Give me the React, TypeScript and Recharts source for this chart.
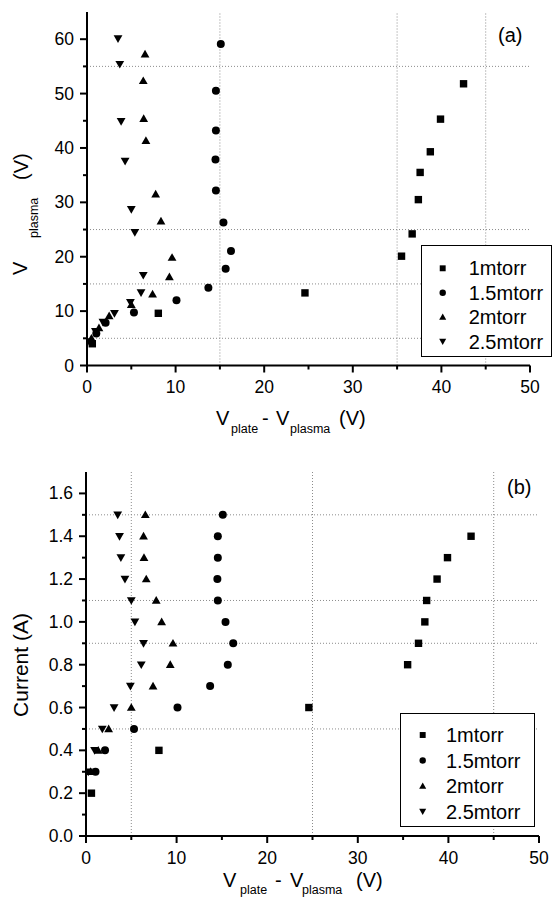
import { ScatterChart, Scatter, XAxis, YAxis, ReferenceLine, Legend } from 'recharts'

const FONT = '"Liberation Sans", Arial, Helvetica, sans-serif'

const pressures = ['1mtorr', '1.5mtorr', '2mtorr', '2.5mtorr']

// V_plate - V_plasma (V) for each pressure
const dv1 = [0.6, 8.05, 24.6, 35.5, 36.7, 37.4, 37.6, 38.75, 39.9, 42.5]
const dv15 = [1.05, 2.1, 5.3, 10.1, 13.7, 15.65, 16.25, 15.4, 14.55, 14.5, 14.55, 14.55, 15.1]
const dv2 = [0.5, 1.35, 2.5, 5.0, 7.4, 9.3, 9.6, 8.35, 7.75, 6.65, 6.4, 6.35, 6.55]
const dv25 = [0.25, 0.95, 1.8, 3.1, 4.9, 6.1, 6.35, 5.4, 5.0, 4.3, 3.85, 3.7, 3.5]

// plasma potential (V)
const vp1 = [4.0, 9.6, 13.35, 20.1, 24.2, 30.5, 35.5, 39.3, 45.3, 51.8]
const vp15 = [5.9, 7.85, 9.75, 12.0, 14.3, 17.8, 21.05, 26.3, 32.2, 37.9, 43.2, 50.5, 59.1]
const vp2 = [5.0, 6.9, 9.1, 11.2, 13.1, 16.3, 19.85, 26.55, 31.5, 41.35, 45.4, 52.35, 57.25]
const vp25 = [4.4, 6.3, 8.0, 9.6, 11.6, 13.4, 16.6, 24.5, 28.7, 37.6, 44.9, 55.4, 60.1]

// discharge current (A)
const cur1 = [0.2, 0.4, 0.6, 0.8, 0.9, 1.0, 1.1, 1.2, 1.3, 1.4]
const curN = [0.3, 0.4, 0.5, 0.6, 0.7, 0.8, 0.9, 1.0, 1.1, 1.2, 1.3, 1.4, 1.5]

const xMajor = [0, 10, 20, 30, 40, 50]
const xMinor = [5, 15, 25, 35, 45]
const vpMajor = [0, 10, 20, 30, 40, 50, 60]
const vpMinor = [5, 15, 25, 35, 45, 55]
const curMajor = [0, 0.2, 0.4, 0.6, 0.8, 1.0, 1.2, 1.4, 1.6]
const curMinor = [0.1, 0.3, 0.5, 0.7, 0.9, 1.1, 1.3, 1.5]

// dotted guide lines
const gridXa = [15, 35, 45]
const gridYa = [5, 15, 25, 55]
const gridXb = [5, 25, 45]
const gridYb = [0.5, 0.9, 1.1, 1.5]

type Kind = 'square' | 'circle' | 'up' | 'down'
const kinds: Kind[] = ['square', 'circle', 'up', 'down']

const pts = (xs: number[], ys: number[]) => xs.map((x, i) => ({ x, y: ys[i] }))

const seriesA = [pts(dv1, vp1), pts(dv15, vp15), pts(dv2, vp2), pts(dv25, vp25)]
const seriesB = [pts(dv1, cur1), pts(dv15, curN), pts(dv2, curN), pts(dv25, curN)]

function Mark({ kind, cx, cy, s = 1 }: { kind: Kind; cx: number; cy: number; s?: number }) {
  if (kind === 'square') {
    const h = 3.7 * s
    return <rect x={cx - h} y={cy - h} width={2 * h} height={2 * h} fill="#000" />
  }
  if (kind === 'circle') return <circle cx={cx} cy={cy} r={4 * s} fill="#000" />
  const h = 4.4 * s
  if (kind === 'up') {
    return <polygon points={`${cx},${cy - h} ${cx + h},${cy + h * 0.75} ${cx - h},${cy + h * 0.75}`} fill="#000" />
  }
  return <polygon points={`${cx},${cy + h} ${cx + h},${cy - h * 0.75} ${cx - h},${cy - h * 0.75}`} fill="#000" />
}

const sortNum = (a: number[]) => [...a].sort((p, q) => p - q)

function makeXTick(major: number[]) {
  return (p: any) => {
    const v = p.payload.value as number
    const isMajor = major.includes(v)
    return (
      <g>
        <line x1={p.x} x2={p.x} y1={p.y} y2={p.y + (isMajor ? 7 : 4)} stroke="#000" strokeWidth={2} />
        {isMajor && (
          <text x={p.x} y={p.y + 27.5} textAnchor="middle" fontSize={17.5} fontFamily={FONT} fill="#000">
            {v}
          </text>
        )}
      </g>
    )
  }
}

function makeYTick(major: number[], fmt: (v: number) => string) {
  return (p: any) => {
    const v = p.payload.value as number
    const isMajor = major.includes(v)
    return (
      <g>
        <line x1={p.x} x2={p.x - (isMajor ? 7 : 4)} y1={p.y} y2={p.y} stroke="#000" strokeWidth={2} />
        {isMajor && (
          <text x={p.x - 13} y={p.y + 6} textAnchor="end" fontSize={17.5} fontFamily={FONT} fill="#000">
            {fmt(v)}
          </text>
        )}
      </g>
    )
  }
}

function KeyBox({ w, h, rowTop, rowGap, markX, textX }: { w: number; h: number; rowTop: number; rowGap: number; markX: number; textX: number }) {
  return (
    <svg width={w} height={h} style={{ display: 'block' }}>
      <rect x={0.5} y={0.5} width={w - 1} height={h - 1} fill="#fff" stroke="#000" strokeWidth={1} />
      {pressures.map((name, i) => {
        const cy = rowTop + i * rowGap
        return (
          <g key={name}>
            <Mark kind={kinds[i]} cx={markX} cy={cy} s={0.8} />
            <text x={textX} y={cy + 7} fontSize={20} fontFamily={FONT} fill="#000">
              {name}
            </text>
          </g>
        )
      })}
    </svg>
  )
}

// axis titles drawn in chart coordinates
function TitlesA() {
  return (
    <g fontFamily={FONT} fill="#000">
      <text x={216} y={425} fontSize={20}>V</text>
      <text x={231} y={432.5} fontSize={12.5}>plate</text>
      <text x={262} y={425} fontSize={20}>-</text>
      <text x={276} y={425} fontSize={20}>V</text>
      <text x={290} y={432.5} fontSize={12.5}>plasma</text>
      <text x={339} y={425} fontSize={20}>(V)</text>
      <text transform="translate(27,275) rotate(-90)" fontSize={20}>V</text>
      <text transform="translate(38,238) rotate(-90)" fontSize={12.5}>plasma</text>
      <text transform="translate(28,180) rotate(-90)" fontSize={20}>(V)</text>
      <text x={498} y={41.5} fontSize={20}>(a)</text>
    </g>
  )
}

function TitlesB() {
  return (
    <g fontFamily={FONT} fill="#000">
      <text x={223} y={446.7} fontSize={20}>V</text>
      <text x={240} y={453.5} fontSize={12.5}>plate</text>
      <text x={275} y={446.7} fontSize={20}>-</text>
      <text x={290} y={446.7} fontSize={20}>V</text>
      <text x={302} y={453.5} fontSize={12.5}>plasma</text>
      <text x={356} y={446.7} fontSize={20}>(V)</text>
      <text transform="translate(28,225) rotate(-90)" fontSize={21} textAnchor="middle">Current (A)</text>
      <text x={507} y={53.5} fontSize={20}>(b)</text>
    </g>
  )
}

const axisLine = { stroke: '#000', strokeWidth: 2 }
const guide = { stroke: '#8c8c8c', strokeWidth: 1, strokeDasharray: '1 2' }

export default function App() {
  return (
    <div style={{ position: 'absolute', left: 0, top: 0, width: 552, height: 905, background: '#fff' }}>
      <div style={{ position: 'absolute', left: 0, top: 0 }}>
        <ScatterChart width={552} height={440} margin={{ top: 12, right: 22, bottom: 0, left: 0 }}>
          <XAxis
            type="number"
            dataKey="x"
            domain={[0, 50]}
            ticks={sortNum([...xMajor, ...xMinor])}
            interval={0}
            tick={makeXTick(xMajor)}
            tickLine={false}
            tickSize={0}
            tickMargin={0}
            axisLine={axisLine}
            height={74.5}
            allowDataOverflow
            label={<TitlesA />}
          />
          <YAxis
            type="number"
            dataKey="y"
            domain={[0, 65]}
            ticks={sortNum([...vpMajor, ...vpMinor])}
            interval={0}
            tick={makeYTick(vpMajor, v => String(v))}
            tickLine={false}
            tickSize={0}
            tickMargin={0}
            axisLine={axisLine}
            width={87}
            allowDataOverflow
          />
          {gridXa.map(v => <ReferenceLine key={`x${v}`} x={v} {...guide} />)}
          {gridYa.map(v => <ReferenceLine key={`y${v}`} y={v} {...guide} />)}
          {seriesA.map((data, i) => (
            <Scatter
              key={pressures[i]}
              name={pressures[i]}
              data={data}
              isAnimationActive={false}
              shape={(p: any) => <Mark kind={kinds[i]} cx={p.cx} cy={p.cy} />}
            />
          ))}
          <Legend
            layout="vertical"
            align="center"
            verticalAlign="middle"
            wrapperStyle={{ left: 421, top: 245, width: 131, height: 112 }}
            content={() => <KeyBox w={131} h={112} rowTop={23.3} rowGap={24.4} markX={21.7} textX={47.7} />}
          />
        </ScatterChart>
      </div>
      <div style={{ position: 'absolute', left: 0, top: 440 }}>
        <ScatterChart width={552} height={465} margin={{ top: 32, right: 13, bottom: 0, left: 0 }}>
          <XAxis
            type="number"
            dataKey="x"
            domain={[0, 50]}
            ticks={sortNum([...xMajor, ...xMinor])}
            interval={0}
            tick={makeXTick(xMajor)}
            tickLine={false}
            tickSize={0}
            tickMargin={0}
            axisLine={axisLine}
            height={69}
            allowDataOverflow
            label={<TitlesB />}
          />
          <YAxis
            type="number"
            dataKey="y"
            domain={[0, 1.7]}
            ticks={sortNum([...curMajor, ...curMinor])}
            interval={0}
            tick={makeYTick(curMajor, v => v.toFixed(1))}
            tickLine={false}
            tickSize={0}
            tickMargin={0}
            axisLine={axisLine}
            width={86}
            allowDataOverflow
          />
          {gridXb.map(v => <ReferenceLine key={`x${v}`} x={v} {...guide} />)}
          {gridYb.map(v => <ReferenceLine key={`y${v}`} y={v} {...guide} />)}
          {seriesB.map((data, i) => (
            <Scatter
              key={pressures[i]}
              name={pressures[i]}
              data={data}
              isAnimationActive={false}
              shape={(p: any) => <Mark kind={kinds[i]} cx={p.cx} cy={p.cy} />}
            />
          ))}
          <Legend
            layout="vertical"
            align="center"
            verticalAlign="middle"
            wrapperStyle={{ left: 400, top: 273, width: 135, height: 114 }}
            content={() => <KeyBox w={135} h={114} rowTop={22} rowGap={25.5} markX={22.7} textX={46} />}
          />
        </ScatterChart>
      </div>
    </div>
  )
}
